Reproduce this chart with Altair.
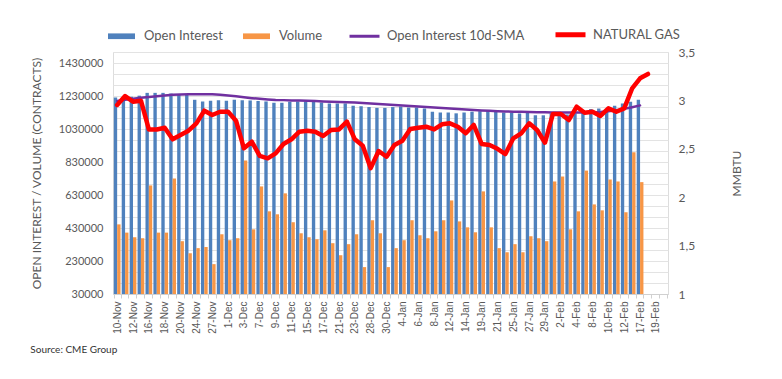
import altair as alt
import pandas as pd

dates = ["10-Nov","11-Nov","12-Nov","13-Nov","16-Nov","17-Nov","18-Nov","19-Nov","20-Nov","23-Nov",
         "24-Nov","25-Nov","27-Nov","30-Nov","1-Dec","2-Dec","3-Dec","4-Dec","7-Dec","8-Dec",
         "9-Dec","10-Dec","11-Dec","14-Dec","15-Dec","16-Dec","17-Dec","18-Dec","21-Dec","22-Dec",
         "23-Dec","24-Dec","28-Dec","29-Dec","30-Dec","31-Dec","4-Jan","5-Jan","6-Jan","7-Jan",
         "8-Jan","11-Jan","12-Jan","13-Jan","14-Jan","15-Jan","19-Jan","20-Jan","21-Jan","22-Jan",
         "25-Jan","26-Jan","27-Jan","28-Jan","29-Jan","1-Feb","2-Feb","3-Feb","4-Feb","5-Feb",
         "8-Feb","9-Feb","10-Feb","11-Feb","12-Feb","16-Feb","17-Feb","18-Feb","19-Feb","22-Feb"]
label_dates = dates[0:69:2]

open_interest = [1221,1212,1225,1232,1249,1249,1249,1245,1240,1237,
                 1207,1197,1201,1205,1201,1207,1205,1203,1200,1197,
                 1189,1189,1195,1197,1196,1196,1190,1185,1185,1185,
                 1171,1168,1163,1158,1158,1163,1166,1160,1160,1154,
                 1135,1130,1130,1125,1130,1135,1138,1140,1133,1130,
                 1130,1124,1127,1113,1113,1124,1124,1118,1125,1130,
                 1151,1154,1151,1171,1185,1195,1207]
volume = [452,402,374,368,688,402,402,730,350,277,
          308,315,211,392,356,368,839,422,682,531,
          513,640,465,398,374,362,416,338,265,332,
          392,193,477,398,193,308,356,477,386,368,
          410,477,597,470,434,404,652,434,308,283,
          332,283,380,368,350,712,742,422,531,778,
          573,537,724,712,525,889,708]
oi_sma = [1200,1207,1213,1219,1224,1229,1233,1237,1239,1240,
          1241,1241,1240,1237,1233,1228,1222,1217,1213,1209,
          1206,1205,1203,1202,1201,1199,1197,1195,1193,1192,
          1190,1187,1184,1181,1178,1175,1172,1169,1166,1163,
          1160,1157,1154,1151,1148,1145,1142,1140,1138,1136,
          1135,1134,1133,1132,1131,1130,1130,1130,1130,1130,
          1130,1133,1138,1144,1152,1162,1173]
natural_gas = [2.953,3.045,2.987,2.997,2.70,2.70,2.718,2.598,2.642,2.687,
               2.763,2.894,2.849,2.883,2.883,2.790,2.505,2.573,2.426,2.402,
               2.453,2.55,2.598,2.677,2.687,2.677,2.632,2.694,2.70,2.78,
               2.598,2.532,2.30,2.477,2.418,2.539,2.584,2.705,2.718,2.728,
               2.70,2.753,2.763,2.728,2.660,2.746,2.55,2.539,2.50,2.446,
               2.608,2.66,2.763,2.694,2.563,2.86,2.86,2.797,2.935,2.873,
               2.883,2.839,2.918,2.883,2.918,3.125,3.228,3.273]

series_names = ["Open Interest", "Volume", "Open Interest 10d-SMA", "NATURAL GAS"]
series_colors = ["#4F81BD", "#F79646", "#7030A0", "#FF0000"]

left_min = 30000
left_step = 200000
left_max = left_min + 22 * left_step / 3
grid_vals = [left_min + i * left_step / 3 for i in range(23)]
right_ticks = [1, 1.5, 2, 2.5, 3, 3.5]

n_bar = len(open_interest)
df_bars = pd.DataFrame({
    "date": dates[:n_bar] * 2,
    "series": ["Open Interest"] * n_bar + ["Volume"] * n_bar,
    "value": [v * 1000 for v in open_interest] + [v * 1000 for v in volume],
})
df_sma = pd.DataFrame({"date": dates[:len(oi_sma)], "series": "Open Interest 10d-SMA",
                       "value": [v * 1000 for v in oi_sma]})
df_ng = pd.DataFrame({"date": dates[:len(natural_gas)], "series": "NATURAL GAS", "ng": natural_gas})

FONT = "Lato"
GREY = "#595959"

label_list = ",".join("'%s'" % d for d in label_dates)
x_enc = alt.X("date:N", sort=dates,
              scale=alt.Scale(domain=dates, paddingInner=0.15, paddingOuter=0.1),
              axis=alt.Axis(values=dates, labelExpr="indexof([%s], datum.value) >= 0 ? datum.value : ''" % label_list,
                            labelAngle=-90, labelFont="Liberation Sans", labelFontSize=10, labelColor=GREY,
                            labelOverlap=False, labelPadding=3, domainColor="#d0d0d0", tickColor="#d0d0d0",
                            tickSize=4, tickBand="extent", grid=False),
              title=None)

left_axis = alt.Axis(values=grid_vals,
                     labelExpr="abs((datum.value - 30000) / 200000 - round((datum.value - 30000) / 200000)) < 0.001 ? format(datum.value, 'd') : ''",
                     labelOverlap=False, ticks=False, domain=False, grid=True, gridColor="#e3e3e3", gridWidth=1,
                     labelPadding=10, labelFont=FONT, labelFontSize=11, labelColor=GREY,
                     title="OPEN INTEREST / VOLUME (CONTRACTS)", titleFont=FONT, titleFontSize=12,
                     titleFontWeight="normal", titleColor=GREY, titlePadding=15)
y_scale = alt.Scale(domain=[left_min, left_max], zero=False, nice=False)

color_enc = alt.Color("series:N",
                      scale=alt.Scale(domain=series_names, range=series_colors),
                      legend=alt.Legend(
                          orient="none", legendX=2, legendY=-24, direction="horizontal", title=None,
                          symbolType={"expr": "(datum.value == 'Open Interest' || datum.value == 'Volume') ? 'M-0.9,-0.19H0.9V0.19H-0.9Z' : 'stroke'"},
                          symbolSize=900,
                          symbolStrokeWidth={"expr": "(datum.value == 'Open Interest' || datum.value == 'Volume') ? 0 : (datum.value == 'NATURAL GAS' ? 5 : 3)"},
                          labelFont=FONT, labelFontSize=13, labelColor=GREY, labelOffset=16, columnPadding=20))

bars = alt.Chart(df_bars).mark_bar().encode(
    x=x_enc,
    xOffset=alt.XOffset("series:N", sort=["Open Interest", "Volume"], scale=alt.Scale(paddingInner=0, paddingOuter=0)),
    y=alt.Y("value:Q", scale=y_scale, axis=left_axis),
    y2=alt.Y2Datum(left_min),
    color=color_enc,
)
sma_line = alt.Chart(df_sma).mark_line(strokeWidth=2.5, strokeJoin="round", strokeCap="round").encode(
    x=x_enc,
    y=alt.Y("value:Q", scale=y_scale, axis=left_axis),
    color=color_enc,
)
ng_line = alt.Chart(df_ng).mark_line(strokeWidth=4.5, strokeJoin="round", strokeCap="round").encode(
    x=x_enc,
    y=alt.Y("ng:Q", scale=alt.Scale(domain=[1, 3.5], zero=False, nice=False),
            axis=alt.Axis(orient="right", values=right_ticks,
                          labelExpr="replace(toString(datum.value), '.', ',')",
                          grid=False, ticks=False, domain=False, labelPadding=10,
                          labelFont=FONT, labelFontSize=12, labelColor=GREY,
                          title="MMBTU", titleFont=FONT, titleFontSize=12, titleFontWeight="normal",
                          titleColor=GREY, titleAngle=270, titlePadding=49)),
    color=color_enc,
)

chart = alt.layer(alt.layer(bars, sma_line), ng_line).resolve_scale(y="independent").properties(
    width=555, height=242,
    padding={"left": 22, "top": 20, "right": 10, "bottom": 8},
    title=alt.TitleParams("Source: CME Group", orient="bottom", anchor="start", fontSize=10,
                          font=FONT, fontWeight="normal", color="#333333", offset=12),
).configure_view(stroke=None).configure(background="white")

chart.save("out.html", embed_options={"renderer": "svg", "actions": False})
